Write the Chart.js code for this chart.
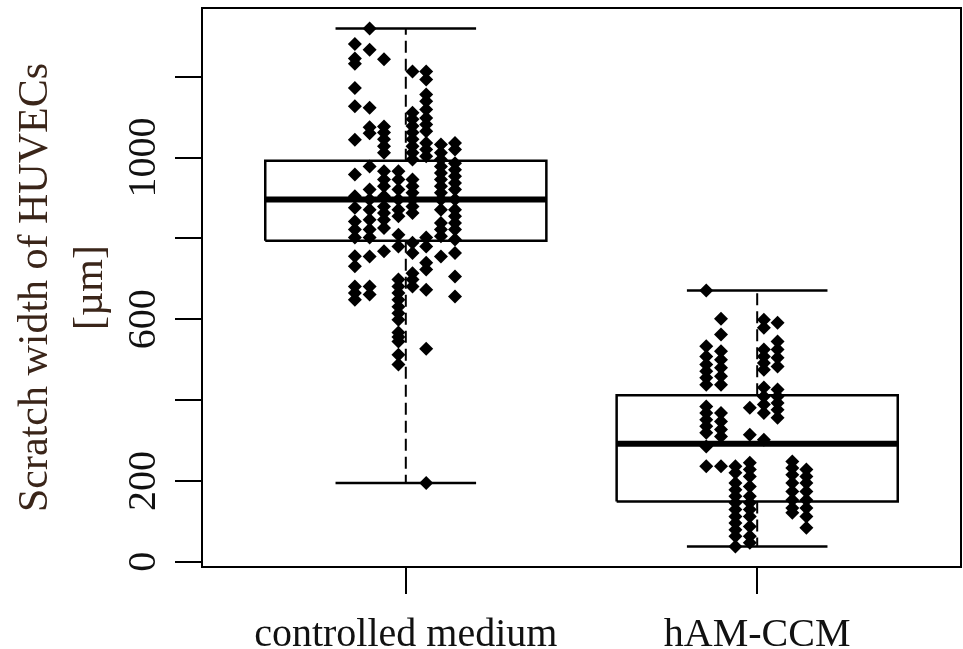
<!DOCTYPE html>
<html>
<head>
<meta charset="utf-8">
<title>Scratch width of HUVECs</title>
<script src="https://cdn.jsdelivr.net/npm/chart.js@4.4.1/dist/chart.umd.min.js"></script>
<style>
  html, body { margin: 0; padding: 0; background: #fff; }
  #wrap { width: 963px; height: 649px; }
</style>
</head>
<body>
<div id="wrap"><canvas id="chart"></canvas></div>
<script>
// ── Data ──────────────────────────────────────────────────────────

var GROUPS    = ['controlled medium', 'hAM-CCM'];
var GROUP_POS = [1, 2];
var Y_TICKS   = [0, 200, 400, 600, 800, 1000, 1200];
var Y_LABELS  = [0, 200, 600, 1000];

// box statistics per group
var LOWER_WHISKER = [195, 38];
var Q1            = [794, 149];
var MEDIAN        = [896, 292];
var Q3            = [992, 412];
var UPPER_WHISKER = [1319, 671];

// strip columns (offset from group centre, in category units)
var JITTER = [-0.145, -0.103, -0.062, -0.021, 0.019, 0.058, 0.1, 0.14];

// controlled medium, one array per strip column
var CTRL_COLS = [
  [1281, 1245, 1232, 1172, 1127, 1044, 958, 904, 876, 842, 822, 802, 756, 731, 681, 665, 648],
  [1319, 1267, 1123, 1075, 1060, 978, 921, 896, 871, 846, 822, 802, 755, 681, 661],
  [1243, 1077, 1062, 1045, 1028, 1012, 966, 946, 929, 904, 879, 863, 846, 826, 768],
  [966, 946, 921, 896, 871, 855, 809, 780, 698, 681, 665, 648, 631, 615, 599, 567, 556, 545, 512, 488],
  [1213, 1111, 1095, 1078, 1062, 1045, 1028, 1012, 995, 946, 929, 913, 896, 879, 863, 789, 764, 714, 698, 681],
  [1213, 1193, 1156, 1139, 1119, 1098, 1082, 1065, 1036, 1020, 1003, 802, 780, 740, 723, 673, 527, 195],
  [1032, 1012, 995, 978, 962, 946, 929, 913, 896, 871, 838, 822, 805, 755],
  [1036, 1020, 986, 970, 954, 937, 921, 896, 871, 855, 838, 822, 797, 764, 706, 656]
];

// hAM-CCM, one array per strip column
var HAM_COLS = [
  [671, 533, 508, 488, 471, 455, 438, 384, 368, 351, 335, 319, 285, 236],
  [601, 562, 521, 500, 480, 459, 438, 368, 347, 327, 310, 236],
  [236, 220, 195, 178, 162, 146, 129, 112, 96, 79, 63, 38],
  [381, 314, 245, 228, 211, 186, 162, 146, 129, 112, 87, 63, 47],
  [599, 579, 525, 508, 492, 475, 431, 409, 389, 368, 302],
  [591, 545, 525, 505, 483, 426, 409, 393, 376, 356],
  [248, 232, 215, 195, 174, 153, 133, 121],
  [228, 211, 195, 174, 153, 133, 112, 84]
];

var GROUP_COLS = [CTRL_COLS, HAM_COLS];

// ── Style ─────────────────────────────────────────────────────────

var FONT      = 'Liberation Serif, Times New Roman, serif';
var INK       = '#000';
var BOX_HALF  = 0.4;
var CAP_HALF  = 0.2;

// ── Helpers ───────────────────────────────────────────────────────

function segment(points, width, dash) {
  return {
    data: points.map(function (p) { return { x: p[0], y: p[1] }; }),
    showLine: true,
    borderColor: INK,
    borderWidth: width,
    borderDash: dash || [],
    borderCapStyle: 'butt',
    borderJoinStyle: 'miter',
    pointRadius: 0,
    fill: false,
    order: 1
  };
}

function boxDatasets() {
  var sets = [];
  for (var i = 0; i < GROUP_POS.length; i++) {
    var x = GROUP_POS[i];
    var l = x - BOX_HALF, r = x + BOX_HALF;
    // whiskers (dashed) and caps
    sets.push(segment([[x, Q3[i]], [x, UPPER_WHISKER[i]]], 2, [12, 6]));
    sets.push(segment([[x, Q1[i]], [x, LOWER_WHISKER[i]]], 2, [12, 6]));
    sets.push(segment([[x - CAP_HALF, UPPER_WHISKER[i]], [x + CAP_HALF, UPPER_WHISKER[i]]], 2.5));
    sets.push(segment([[x - CAP_HALF, LOWER_WHISKER[i]], [x + CAP_HALF, LOWER_WHISKER[i]]], 2.5));
    // box and median
    sets.push(segment([[l, Q1[i]], [r, Q1[i]], [r, Q3[i]], [l, Q3[i]], [l, Q1[i]]], 2.5));
    sets.push(segment([[l, MEDIAN[i]], [r, MEDIAN[i]]], 6));
  }
  return sets;
}

function pointDatasets() {
  var sets = [];
  for (var g = 0; g < GROUP_COLS.length; g++) {
    var pts = [];
    var cols = GROUP_COLS[g];
    for (var c = 0; c < cols.length; c++) {
      for (var k = 0; k < cols[c].length; k++) {
        pts.push({ x: GROUP_POS[g] + JITTER[c], y: cols[c][k] });
      }
    }
    sets.push({
      data: pts,
      pointStyle: 'rectRot',
      pointRadius: 7,
      backgroundColor: INK,
      borderColor: INK,
      borderWidth: 0,
      order: 0
    });
  }
  return sets;
}

// frame round the plot area, rotated y tick labels, group labels
var framePlugin = {
  id: 'frame',
  afterDraw: function (chart) {
    var ctx = chart.ctx;
    var a = chart.chartArea;
    var x = chart.scales.x;
    var y = chart.scales.y;
    var i;
    ctx.save();
    ctx.strokeStyle = INK;
    ctx.lineWidth = 2;
    ctx.strokeRect(a.left, a.top, a.right - a.left, a.bottom - a.top);

    ctx.fillStyle = '#111';
    ctx.font = '40px ' + FONT;
    ctx.textAlign = 'center';
    ctx.textBaseline = 'middle';
    for (i = 0; i < Y_LABELS.length; i++) {
      var py = y.getPixelForValue(Y_LABELS[i]);
      ctx.save();
      ctx.translate(144, py);
      ctx.rotate(-Math.PI / 2);
      ctx.fillText(String(Y_LABELS[i]), 0, 0);
      ctx.restore();
    }

    ctx.textBaseline = 'alphabetic';
    for (i = 0; i < GROUPS.length; i++) {
      ctx.fillText(GROUPS[i], x.getPixelForValue(GROUP_POS[i]), a.bottom + 79);
    }
    ctx.restore();
  }
};

// ── Chart ─────────────────────────────────────────────────────────

new Chart(document.getElementById('chart'), {
  type: 'scatter',
  data: { datasets: boxDatasets().concat(pointDatasets()) },
  options: {
    responsive: true,
    maintainAspectRatio: false,
    animation: false,
    devicePixelRatio: 1,
    layout: { autoPadding: false, padding: { top: 8, right: 2, left: 0, bottom: 0 } },
    plugins: {
      legend: { display: false },
      tooltip: { enabled: false }
    },
    scales: {
      x: {
        type: 'linear',
        position: 'bottom',
        min: 0.42,
        max: 2.58,
        border: { display: false },
        grid: { drawOnChartArea: false, tickLength: 27, color: INK, lineWidth: 2 },
        ticks: { display: false },
        afterBuildTicks: function (s) {
          s.ticks = GROUP_POS.map(function (v) { return { value: v }; });
        },
        afterFit: function (s) { s.height = 82; }
      },
      y: {
        type: 'linear',
        min: -13,
        max: 1370,
        border: { display: false },
        grid: { drawOnChartArea: false, tickLength: 27, color: INK, lineWidth: 2 },
        ticks: { display: false },
        afterBuildTicks: function (s) {
          s.ticks = Y_TICKS.map(function (v) { return { value: v }; });
        },
        afterFit: function (s) { s.width = 202; },
        title: {
          display: true,
          text: ['Scratch width of HUVECs', '[µm]'],
          color: '#3a2519',
          font: { family: FONT, size: 42, lineHeight: 1.3 },
          padding: { top: 9, bottom: 0 }
        }
      }
    }
  },
  plugins: [framePlugin]
});
</script>
</body>
</html>
